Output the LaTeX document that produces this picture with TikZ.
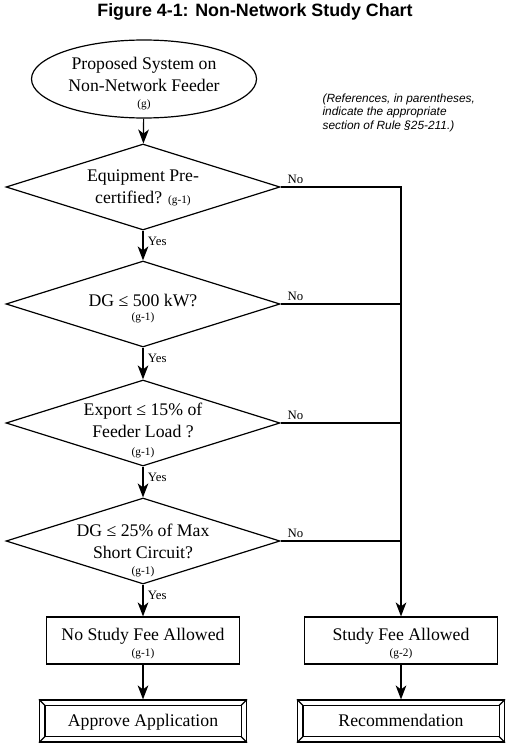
\documentclass[tikz,border=0pt]{standalone}
\usepackage{fontspec}
\setmainfont{Liberation Serif}
\setsansfont{Liberation Sans}
\usetikzlibrary{shapes.geometric,arrows.meta,calc}

\tikzset{every picture/.style={line width=0.9pt}}
\newcommand{\gref}[1]{{\fontsize{8.5}{10}\selectfont #1}}

\begin{document}
\begin{tikzpicture}[x=0.75pt,y=0.75pt,yscale=-1,xscale=1,
  bigtext/.style={font=\fontsize{13.3}{16.5}\selectfont, align=center, inner sep=0pt},
  startshape/.style={draw, ellipse, inner sep=0pt, minimum width=168.75pt, minimum height=58.5pt},
  decision/.style={draw, diamond, inner sep=0pt, minimum width=205.5pt, minimum height=64.5pt},
  outcome/.style={draw, rectangle, bigtext, minimum width=144.75pt, minimum height=35.25pt},
  finalbox/.style={draw, rectangle, bigtext, text height=12pt, text depth=3.5pt, minimum width=155.25pt, minimum height=31.5pt},
  flow/.style={-{Stealth[length=10.5pt,width=8pt,inset=3pt]}},
  answer/.style={font=\fontsize{9.6}{11}\selectfont, inner sep=1pt}]
\useasboundingbox (0,0) rectangle (510,756);

% Title
\node [font=\sffamily\bfseries\fontsize{13.4}{16}\selectfont, anchor=base] (title) at (255,16.5) {Figure 4-1: Non-Network Study Chart};
% Note
\node [anchor=north west, align=left, inner sep=0pt, font=\sffamily\itshape\fontsize{8.9}{10.1}\selectfont] (note) at (322,93)
  {(References, in parentheses,\\indicate the appropriate\\section of Rule §25-211.)};

%Shape: Ellipse
\node [startshape] (start) at (144,79) {};
\node [bigtext] (start-txt) at (144,83.5) {Proposed System on\\Non-Network Feeder\\[-4pt]\gref{(g)}};

%Shape: Diamonds
\node [decision] (q1) at (143,187) {};
\node [bigtext] (q1-txt) at (143,188) {Equipment Pre-\\certified? \gref{(g-1)}};
\node [decision] (q2) at (143,304) {};
\node [bigtext] (q2-txt) at (143,308.5) {DG ≤ 500 kW?\\[-5.5pt]\gref{(g-1)}};
\node [decision] (q3) at (143,423) {};
\node [bigtext] (q3-txt) at (143,430.5) {Export ≤ 15\% of\\Feeder Load ?\\[-3.5pt]\gref{(g-1)}};
\node [decision] (q4) at (143,541) {};
\node [bigtext] (q4-txt) at (143,550) {DG ≤ 25\% of Max\\Short Circuit?\\[-4.5pt]\gref{(g-1)}};

%Shape: Boxes
\node [outcome] (nofee) at (143,640.5) {\rule{0pt}{14pt}No Study Fee Allowed\\[-4pt]\gref{(g-1)}};
\node [outcome] (fee) at (401,640.5) {\rule{0pt}{14pt}Study Fee Allowed\\[-4pt]\gref{(g-2)}};
\node [finalbox] (approve) at (143,721) {Approve Application};
\node [finalbox] (recommend) at (401,721) {Recommendation};
\foreach \n in {approve,recommend}{
  \draw ([shift={(6,6)}]\n.north west) rectangle ([shift={(-6,-6)}]\n.south east);
  \draw (\n.north west) -- ([shift={(6,6)}]\n.north west);
  \draw (\n.north east) -- ([shift={(-6,6)}]\n.north east);
  \draw (\n.south west) -- ([shift={(6,-6)}]\n.south west);
  \draw (\n.south east) -- ([shift={(-6,-6)}]\n.south east);
}

%Straight Lines: Yes branch
\draw [flow] (start) -- (q1);
\draw [flow] (q1) -- (q2);
\draw [flow] (q2) -- (q3);
\draw [flow] (q3) -- (q4);
\draw [flow] (q4) -- (nofee);
\draw [flow] (nofee) -- (approve);
\draw [flow] (fee) -- (recommend);

%Straight Lines: No branch
\coordinate (turn) at (q1.east -| fee.north);
\draw [flow] (q1.east) -- (turn) -- (fee.north);
\draw (q2.east) -- (q2.east -| turn);
\draw (q3.east) -- (q3.east -| turn);
\draw (q4.east) -- (q4.east -| turn);

% Text Node
\foreach \q in {q1,q2,q3,q4}{
  \node [answer, anchor=west] (\q-yes) at ($(\q.south)+(3,11)$) {Yes};
  \node [answer, anchor=south west] (\q-no) at ($(\q.east)+(5,-1)$) {No};
}

\end{tikzpicture}
\end{document}
